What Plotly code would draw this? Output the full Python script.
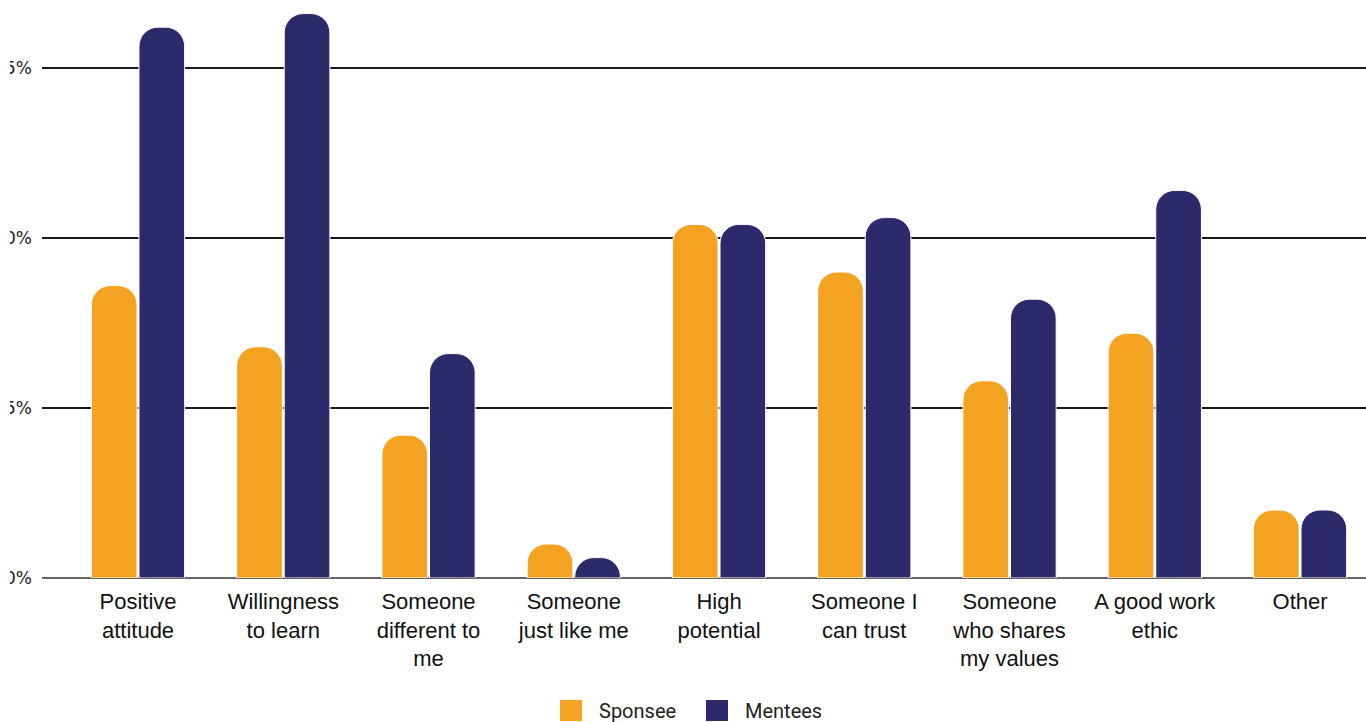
import plotly.graph_objects as go

# Survey results: qualities looked for, by group (% of respondents)
categories = [
    "Positive<br>attitude",
    "Willingness<br>to learn",
    "Someone<br>different to<br>me",
    "Someone<br>just like me",
    "High<br>potential",
    "Someone I<br>can trust",
    "Someone<br>who shares<br>my values",
    "A good work<br>ethic",
    "Other",
]
sponsee = [43, 34, 21, 5, 52, 45, 29, 36, 10]
mentees = [81, 83, 33, 3, 52, 53, 41, 57, 10]

tick_vals = [0, 25, 50, 75]
tick_text = ["0%", "25%", "50%", "75%"]

series_names = ["Sponsee", "Mentees"]
series_colors = ["#F3A321", "#2D2A6C"]

W, H = 1366, 722
M_L, M_R, M_T, M_B = 42, 0, 0, 144
plot_w = W - M_L - M_R
plot_h = H - M_T - M_B

fig = go.Figure()
for name, vals, color in zip(series_names, [sponsee, mentees], series_colors):
    fig.add_trace(go.Bar(
        x=list(range(len(categories))),
        y=vals,
        name=name,
        marker=dict(color=color, line=dict(color="white", width=1), cornerradius=19),
        showlegend=False,
        hoverinfo="y+name",
    ))

fig.update_layout(
    width=W,
    height=H,
    margin=dict(l=M_L, r=M_R, t=M_T, b=M_B, pad=0),
    paper_bgcolor="white",
    plot_bgcolor="white",
    barmode="group",
    bargap=0.345,
    bargroupgap=0.04,
    xaxis=dict(
        range=[-0.661, 8.454],
        tickmode="array",
        tickvals=list(range(len(categories))),
        ticktext=categories,
        tickfont=dict(family="Liberation Sans, Arial, sans-serif", size=22, color="#111111"),
        showgrid=False,
        showline=False,
        zeroline=False,
        ticks="",
        automargin=False,
        ticklabelstandoff=8,
    ),
    yaxis=dict(
        range=[0, 85],
        tickmode="array",
        tickvals=tick_vals,
        ticktext=tick_text,
        tickfont=dict(family="DejaVu Sans, sans-serif", size=17, color="#222222"),
        showgrid=True,
        gridcolor="#1a1a1a",
        gridwidth=1.5,
        zeroline=True,
        zerolinecolor="#666666",
        zerolinewidth=2,
        showline=False,
        ticks="",
        automargin=False,
        ticklabelstandoff=9,
    ),
)

# White strip along the page's left edge, over the start of the tick labels
fig.add_shape(
    type="rect", xref="paper", yref="paper",
    x0=-0.2, x1=(10 - M_L) / plot_w, y0=-0.3, y1=1.1,
    fillcolor="white", line=dict(width=0), layer="above",
)

# Legend row: coloured squares with series names, centred under the axis
def px_x(px):
    return (px - M_L) / plot_w

def px_y(py):
    return (H - M_B - py) / plot_h

legend_items = [(560, 597), (706, 743)]
for (box_x, text_x), name, color in zip(legend_items, series_names, series_colors):
    fig.add_shape(
        type="rect", xref="paper", yref="paper",
        x0=px_x(box_x), x1=px_x(box_x + 22), y0=px_y(721), y1=px_y(700),
        fillcolor=color, line=dict(width=0), layer="above",
    )
    fig.add_annotation(
        xref="paper", yref="paper", x=px_x(text_x), y=px_y(711),
        xanchor="left", yanchor="middle", text=name, showarrow=False,
        font=dict(family="Roboto, sans-serif", size=20, color="#222222"),
    )

fig.write_html("out.html")
